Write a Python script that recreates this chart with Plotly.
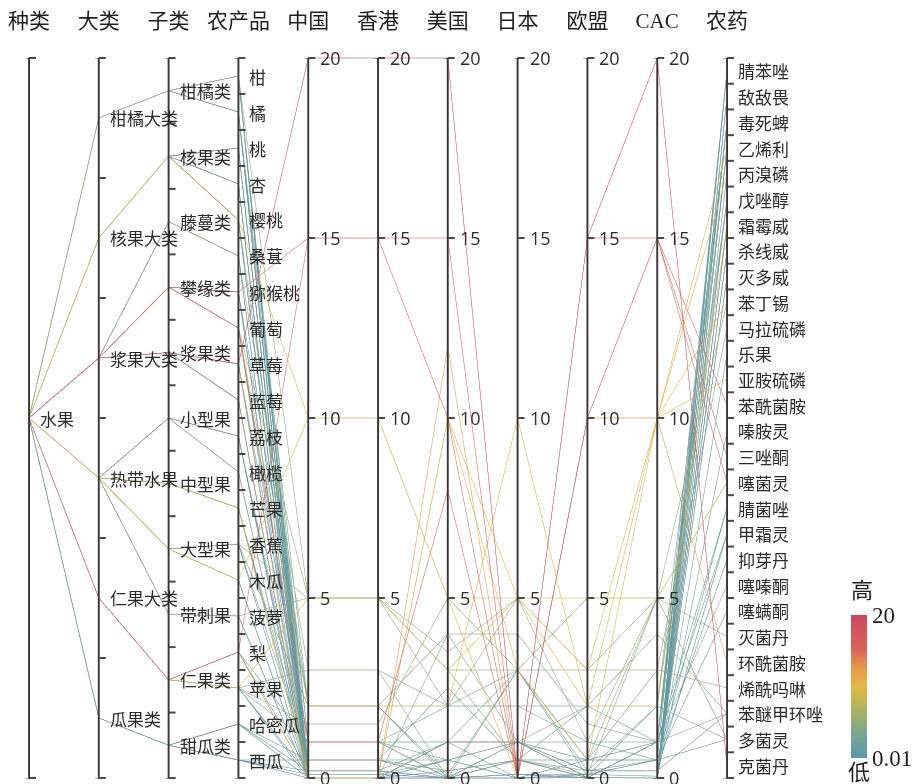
import plotly.graph_objects as go

# ---- categories -------------------------------------------------------------
kinds = ["水果"]
major_classes = ["柑橘大类", "核果大类", "浆果大类", "热带水果", "仁果大类", "瓜果类"]
sub_classes = ["柑橘类", "核果类", "藤蔓类", "攀缘类", "浆果类", "小型果", "中型果",
               "大型果", "带刺果", "仁果类", "甜瓜类"]
products = ["柑", "橘", "桃", "杏", "樱桃", "桑葚", "猕猴桃", "葡萄", "草莓", "蓝莓",
            "荔枝", "橄榄", "芒果", "香蕉", "木瓜", "菠萝", "梨", "苹果", "哈密瓜", "西瓜"]
product_major = ["柑橘大类", "柑橘大类", "核果大类", "核果大类", "核果大类", "浆果大类",
                 "浆果大类", "浆果大类", "浆果大类", "浆果大类", "热带水果", "热带水果",
                 "热带水果", "热带水果", "热带水果", "热带水果", "仁果大类", "仁果大类",
                 "瓜果类", "瓜果类"]
product_sub = ["柑橘类", "柑橘类", "核果类", "核果类", "核果类", "藤蔓类", "攀缘类",
               "攀缘类", "浆果类", "浆果类", "小型果", "小型果", "中型果", "大型果",
               "大型果", "带刺果", "仁果类", "仁果类", "甜瓜类", "甜瓜类"]
pesticides = ["腈苯唑", "敌敌畏", "毒死蜱", "乙烯利", "丙溴磷", "戊唑醇", "霜霉威", "杀线威",
              "灭多威", "苯丁锡", "马拉硫磷", "乐果", "亚胺硫磷", "苯酰菌胺", "嗪胺灵", "三唑酮",
              "噻菌灵", "腈菌唑", "甲霜灵", "抑芽丹", "噻嗪酮", "噻螨酮", "灭菌丹", "环酰菌胺",
              "烯酰吗啉", "苯醚甲环唑", "多菌灵", "克菌丹"]
regions = ["中国", "香港", "美国", "日本", "欧盟", "CAC"]
mrl_ticks = [0, 5, 10, 15, 20]

# ---- residue limit records (mg/kg) ---------------------------------------------
rec_product = [
    "柑", "柑", "柑", "柑", "柑", "柑", "柑", "柑",
    "橘", "橘", "橘", "橘", "橘", "橘", "橘",
    "桃", "桃", "桃", "桃", "桃", "桃", "桃",
    "杏", "杏", "杏", "杏", "杏", "杏",
    "樱桃", "樱桃", "樱桃", "樱桃", "樱桃",
    "桑葚", "桑葚", "桑葚", "桑葚",
    "猕猴桃", "猕猴桃", "猕猴桃", "猕猴桃", "猕猴桃",
    "葡萄", "葡萄", "葡萄", "葡萄", "葡萄", "葡萄",
    "草莓", "草莓", "草莓", "草莓", "草莓", "草莓",
    "蓝莓", "蓝莓", "蓝莓", "蓝莓", "蓝莓",
    "荔枝", "荔枝", "荔枝", "荔枝", "荔枝",
    "橄榄", "橄榄", "橄榄",
    "芒果", "芒果", "芒果", "芒果", "芒果",
    "香蕉", "香蕉", "香蕉", "香蕉", "香蕉",
    "木瓜", "木瓜", "木瓜", "木瓜",
    "菠萝", "菠萝", "菠萝", "菠萝",
    "梨", "梨", "梨", "梨", "梨", "梨",
    "苹果", "苹果", "苹果", "苹果", "苹果", "苹果",
    "哈密瓜", "哈密瓜", "哈密瓜", "哈密瓜", "哈密瓜",
    "西瓜", "西瓜", "西瓜", "西瓜", "西瓜",
]
rec_pesticide = [
    "腈苯唑", "敌敌畏", "毒死蜱", "丙溴磷", "苯丁锡", "噻嗪酮", "杀线威", "灭多威",
    "毒死蜱", "乙烯利", "戊唑醇", "甲霜灵", "腈苯唑", "敌敌畏", "霜霉威",
    "腈苯唑", "敌敌畏", "灭多威", "乙烯利", "抑芽丹", "毒死蜱", "霜霉威",
    "毒死蜱", "杀线威", "霜霉威", "嗪胺灵", "腈苯唑", "敌敌畏",
    "戊唑醇", "腈苯唑", "乙烯利", "毒死蜱", "灭多威",
    "敌敌畏", "多菌灵", "腈苯唑", "毒死蜱",
    "敌敌畏", "腈苯唑", "噻菌灵", "乙烯利", "戊唑醇",
    "烯酰吗啉", "霜霉威", "苯酰菌胺", "毒死蜱", "腈苯唑", "乙烯利",
    "腈菌唑", "乐果", "环酰菌胺", "克菌丹", "毒死蜱", "敌敌畏",
    "毒死蜱", "苯醚甲环唑", "腈苯唑", "杀线威", "腈菌唑",
    "腈苯唑", "敌敌畏", "多菌灵", "毒死蜱", "霜霉威",
    "乙烯利", "马拉硫磷", "腈苯唑",
    "腈苯唑", "戊唑醇", "噻菌灵", "敌敌畏", "毒死蜱",
    "腈苯唑", "噻菌灵", "苯醚甲环唑", "毒死蜱", "敌敌畏",
    "丙溴磷", "毒死蜱", "腈苯唑", "乙烯利",
    "多菌灵", "丙溴磷", "敌敌畏", "杀线威",
    "三唑酮", "毒死蜱", "敌敌畏", "亚胺硫磷", "腈苯唑", "乙烯利",
    "苯丁锡", "灭菌丹", "多菌灵", "腈苯唑", "敌敌畏", "毒死蜱",
    "腈苯唑", "敌敌畏", "噻螨酮", "毒死蜱", "甲霜灵",
    "毒死蜱", "苯醚甲环唑", "多菌灵", "腈苯唑", "甲霜灵",
]
mrl_cn = [
    0, 0.2, 1, 0.2, 5, 0.5, 0, 0.2,
    1, 0, 2, 0, 0, 0.2, 0,
    0, 0.1, 0.2, 0, 0, 0, 0,
    0, 0.2, 0, 0, 0, 0.2,
    2, 0, 10, 0, 0.2,
    0, 3, 0, 0,
    0, 0.2, 15, 2, 0,
    5, 2, 1, 0.5, 0, 1,
    1, 0, 0, 20, 0, 0.2,
    0, 0, 0, 0, 0,
    0, 0.2, 0.5, 0, 0,
    0, 0, 0,
    0, 0.5, 0, 0.2, 0,
    0, 5, 0.5, 2, 0,
    10, 0, 0, 0,
    5, 0, 0, 0,
    15, 1, 0.2, 0, 0, 0,
    5, 1.5, 3, 0, 0.1, 1,
    0, 0.2, 0.5, 0, 0.2,
    0, 0.1, 0.5, 0, 0.2,
]
mrl_hk = [
    0, 0.2, 1, 0.2, 5, 0.5, 0, 0.2,
    1, 0, 2, 0, 0, 0.2, 0,
    0, 0.1, 0.2, 0, 0, 0, 0,
    0, 0.2, 0, 0, 0, 0.2,
    2, 0, 10, 0, 0.2,
    0, 3, 0, 0,
    0, 0.2, 15, 2, 0,
    5, 2, 1, 0.5, 0, 1,
    1, 0, 0, 20, 0, 0.2,
    0, 0, 0, 0, 0,
    0, 0.2, 0.5, 0, 0,
    0, 0, 0,
    0, 0.5, 0, 0.2, 0,
    0, 5, 0.5, 2, 0,
    10, 0, 0, 0,
    5, 0, 0, 0,
    15, 1, 0.2, 0, 0, 0,
    5, 1.5, 3, 0, 0.1, 1,
    0, 0.2, 0.5, 0, 0.2,
    0, 0.1, 0.5, 0, 0.2,
]
mrl_us = [
    0, 0, 1, 0, 2, 2.5, 0, 0,
    1, 0, 2, 1, 0, 0, 0,
    0.5, 0, 0, 0, 0, 0, 0,
    0, 0, 0, 0, 0, 0,
    4, 0, 5, 0, 0,
    0, 0, 0, 0,
    0, 0, 15, 0, 0,
    3.5, 2, 8, 0.5, 1, 2,
    0.5, 0, 12, 20, 0.2, 0,
    0, 4, 0, 0, 1,
    0, 0, 0, 0, 0,
    0, 1, 0,
    0, 0, 10, 0, 0,
    0, 3, 0.2, 0.1, 0,
    5, 0, 0, 0,
    3, 0, 0, 1,
    10, 0, 0, 10, 0.5, 0,
    3, 5, 2, 0.5, 0, 0.01,
    0, 0, 0.2, 0, 1,
    0, 0.5, 0, 0, 1,
]
mrl_jp = [
    0, 0.1, 1, 0.5, 5, 0.5, 0, 0,
    1, 0, 2, 1, 0, 0.1, 0,
    0, 0.1, 0.5, 0, 0, 0.5, 0,
    0.5, 0, 0, 1, 0, 0.1,
    4, 0, 5, 0.5, 0,
    0, 3, 0, 0,
    0, 0, 0, 0, 0.5,
    5, 10, 0, 1, 1, 2,
    1, 1, 0, 0, 0.5, 0.1,
    0, 1, 0, 0, 1,
    0, 0.1, 3, 0, 0,
    0, 3, 0,
    0, 0.1, 5, 0.1, 0,
    0, 3, 0.5, 3, 0,
    0, 0, 0, 0,
    0.5, 0, 0, 0,
    0, 0.5, 0.1, 3, 0, 0,
    5, 3, 3, 0, 0.1, 1,
    0, 0.1, 0.5, 0, 1,
    0, 1, 0.5, 0, 1,
]
mrl_eu = [
    0.01, 0.01, 0.01, 0.01, 1, 0.5, 0.01, 0.01,
    0.01, 0.01, 2, 0.5, 0.01, 0.01, 0.01,
    0.1, 0.01, 0.01, 0.01, 0.5, 0.01, 0.01,
    0.01, 0.01, 0.01, 0.01, 0.01, 0.01,
    1.5, 0.01, 3, 0.01, 0.01,
    0.01, 0.5, 0.01, 0.01,
    0.01, 0.01, 15, 0.01, 0.01,
    3, 2, 10, 0.01, 0.01, 1,
    0.5, 0.01, 10, 15, 0.01, 0.01,
    0.01, 2, 0.01, 0.01, 1,
    0.01, 0.01, 0.5, 0.01, 0.01,
    0.01, 0.5, 0.01,
    0.01, 0.1, 5, 0.01, 0.01,
    0.01, 5, 2, 0.05, 0.01,
    10, 0.01, 0.01, 0.01,
    0.1, 0.01, 0.01, 0.01,
    10, 0.01, 0.01, 0.5, 0.1, 0.01,
    2, 3, 0.2, 0.1, 0.01, 0.01,
    0.01, 0.01, 0.5, 0.01, 0.2,
    0.01, 0.2, 0.2, 0.01, 0.2,
]
mrl_cac = [
    0, 0, 1, 0, 5, 1, 0, 0,
    1, 0, 2, 1, 0, 0, 0,
    0.5, 0, 0, 0, 0.5, 0, 0,
    0, 0, 0, 0, 0, 0,
    1, 0, 10, 0, 0,
    0, 5, 0, 0,
    0, 0, 15, 0, 0,
    3, 2, 15, 1, 1, 1,
    1, 0, 10, 20, 0, 0,
    0, 4, 0, 0, 0.5,
    0, 0, 0.5, 0, 0,
    0, 3, 0,
    0, 0.05, 5, 0, 0,
    0, 5, 1, 2, 0,
    10, 0, 0, 0,
    5, 0, 0, 0,
    15, 1, 0, 10, 0.5, 0,
    10, 5, 2, 0.5, 0, 1,
    0, 0, 0.5, 0, 0.2,
    0, 0.2, 0.5, 0, 0.2,
]

# ---- colour: highest limit among the six standards ----------------------------
mrl_cols = [mrl_cn, mrl_hk, mrl_us, mrl_jp, mrl_eu, mrl_cac]
mrl_max = [max(col[i] for col in mrl_cols) for i in range(len(rec_product))]

# draw low values first so the high-limit lines sit on top
order = sorted(range(len(rec_product)), key=lambda i: mrl_max[i])


def pick(seq):
    return [seq[i] for i in order]


# ---- page geometry ------------------------------------------------------------
FIG_W, FIG_H = 915, 784
M_L, M_R, M_T, M_B = 29, 188, 56, 4
PLOT_W = FIG_W - M_L - M_R
PLOT_H = FIG_H - M_T - M_B
PAD = 2  # parcoords keeps 2px free at both ends of every axis

AXIS_COLOR = "#4f4646"
LABEL_FONT = dict(family="Noto Sans CJK SC, sans-serif", size=17, color="#2b2b2b")
NUM_FONT = dict(family="Open Sans, Noto Sans CJK SC, sans-serif", size=18, color="#2b2b2b")
TITLE_FONT = dict(family="Liberation Serif, Noto Sans CJK SC, serif", size=21, color="#1e1e1e")


def unit_to_paper(u):
    return (PAD + u * (PLOT_H - 2 * PAD)) / PLOT_H


def cat_dim(label, cats, vals):
    n = len(cats)
    return dict(label=label, range=[0, n],
                values=[n - cats.index(v) - 0.5 for v in vals],
                tickvals=[0, n], ticktext=[" ", "  "])


def num_dim(label, vals):
    return dict(label=label, range=[mrl_ticks[0], mrl_ticks[-1]], values=vals,
                tickvals=[mrl_ticks[0], mrl_ticks[-1]], ticktext=[" ", "  "])


p_prod = pick(rec_product)
p_major = [product_major[products.index(p)] for p in p_prod]
p_sub = [product_sub[products.index(p)] for p in p_prod]

dims = [
    cat_dim("种类", kinds, ["水果"] * len(p_prod)),
    cat_dim("大类", major_classes, p_major),
    cat_dim("子类", sub_classes, p_sub),
    cat_dim("农产品", products, p_prod),
]
for name, col in zip(regions, mrl_cols):
    dims.append(num_dim(name, pick(col)))
dims.append(cat_dim("农药", pesticides, pick(rec_pesticide)))

colorscale = [
    [0.0, "#5b98aa"], [0.12, "#6ea39a"], [0.27, "#97af70"], [0.5, "#e3b944"],
    [0.63, "#e5984d"], [0.76, "#dc6459"], [1.0, "#cc4762"],
]

fig = go.Figure(go.Parcoords(
    dimensions=dims,
    line=dict(
        color=pick(mrl_max), colorscale=colorscale, cmin=0, cmax=20, showscale=True,
        colorbar=dict(
            x=(851 - M_L) / PLOT_W, xanchor="left", xpad=0, thickness=16,
            lenmode="pixels", len=180, ypad=0, y=1 - (668 - M_T) / PLOT_H,
            yanchor="middle", outlinewidth=0, ticks="", tickvals=[0.01, 20],
            ticktext=["0.01", "20"],
            tickfont=dict(family="Liberation Serif, serif", size=23, color="#1e1e1e"),
            title=dict(text="高", side="top",
                       font=dict(family="Noto Sans CJK SC", size=22, color="#1e1e1e")),
        ),
    ),
    labelfont=TITLE_FONT,
    tickfont=NUM_FONT,
))

# ---- axis lines, right-hand ticks and labels ------------------------------------
n_axes = len(dims)
shapes, annotations = [], []
cat_axes = {0: kinds, 1: major_classes, 2: sub_classes, 3: products, n_axes - 1: pesticides}
for i in range(n_axes):
    xa = i / (n_axes - 1)
    shapes.append(dict(type="line", xref="paper", yref="paper", x0=xa, x1=xa,
                       y0=unit_to_paper(0), y1=unit_to_paper(1),
                       line=dict(color=AXIS_COLOR, width=2), layer="above"))
    if i in cat_axes:
        cats = cat_axes[i]
        n = len(cats)
        tick_units = [k / n for k in range(n + 1)]
        for k, c in enumerate(cats):
            annotations.append(dict(text=c, xref="paper", yref="paper", x=xa,
                                    y=unit_to_paper((n - k - 0.5) / n), xanchor="left",
                                    yanchor="middle", xshift=9, showarrow=False, font=LABEL_FONT))
    else:
        lo, hi = mrl_ticks[0], mrl_ticks[-1]
        tick_units = [(t - lo) / (hi - lo) for t in mrl_ticks]
        for t, u in zip(mrl_ticks, tick_units):
            annotations.append(dict(text=str(t), xref="paper", yref="paper", x=xa,
                                    y=unit_to_paper(u), xanchor="left", yanchor="middle",
                                    xshift=10, showarrow=False, font=NUM_FONT))
    for u in tick_units:
        shapes.append(dict(type="line", xref="paper", yref="paper", xsizemode="pixel",
                           xanchor=xa, x0=0, x1=7, y0=unit_to_paper(u), y1=unit_to_paper(u),
                           line=dict(color=AXIS_COLOR, width=2), layer="above"))

annotations.append(dict(text="低", xref="paper", yref="paper", x=(859 - M_L) / PLOT_W,
                        y=1 - (770 - M_T) / PLOT_H, xanchor="center", yanchor="middle",
                        showarrow=False,
                        font=dict(family="Noto Sans CJK SC", size=22, color="#1e1e1e")))

fig.update_layout(
    width=FIG_W, height=FIG_H,
    margin=dict(l=M_L, r=M_R, t=M_T, b=M_B, autoexpand=False),
    paper_bgcolor="white", plot_bgcolor="white",
    shapes=shapes, annotations=annotations,
)

fig.write_html("out.html")
